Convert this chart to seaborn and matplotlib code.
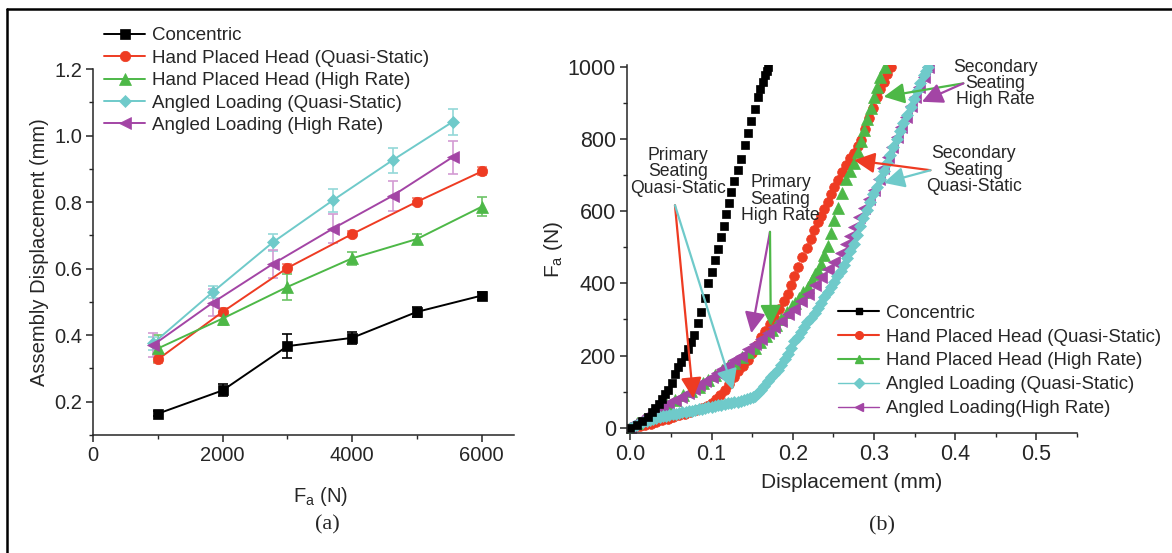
"""
Two-panel reproduction: (a) assembly displacement vs load, (b) load vs displacement curves.
"""
import matplotlib
matplotlib.use("Agg")
import matplotlib.pyplot as plt
import seaborn as sns
from matplotlib.lines import Line2D
from matplotlib.ticker import MultipleLocator, FormatStrFormatter

# ---- data, panel (a) ----
fa_std = [1000, 2000, 3000, 4000, 5000, 6000]
fa_angled = [925, 1850, 2775, 3700, 4625, 5550]

conc_disp = [0.164, 0.234, 0.367, 0.392, 0.470, 0.519]
conc_err = [0.008, 0.018, 0.037, 0.018, 0.015, 0.012]
hand_qs_disp = [0.327, 0.470, 0.602, 0.704, 0.801, 0.892]
hand_qs_err = [0.012, 0.012, 0.012, 0.010, 0.010, 0.012]
hand_hr_disp = [0.360, 0.450, 0.545, 0.631, 0.689, 0.786]
hand_hr_err = [0.042, 0.020, 0.040, 0.020, 0.015, 0.028]
ang_qs_disp = [0.375, 0.530, 0.679, 0.805, 0.926, 1.041]
ang_qs_err = [0.020, 0.018, 0.026, 0.034, 0.038, 0.039]
ang_hr_disp = [0.370, 0.498, 0.614, 0.720, 0.819, 0.935]
ang_hr_err = [0.037, 0.040, 0.043, 0.044, 0.045, 0.050]

# ---- data, panel (b) ----
conc_x = [0, 0.008, 0.015, 0.022, 0.027, 0.031, 0.035, 0.039, 0.043, 0.047, 0.051,
          0.055, 0.059, 0.063, 0.067, 0.071, 0.075, 0.079, 0.083, 0.0875, 0.092,
          0.096, 0.100, 0.104, 0.108, 0.112, 0.115, 0.118, 0.121, 0.124, 0.128,
          0.132, 0.136, 0.141, 0.145, 0.149, 0.153, 0.157, 0.160, 0.163, 0.166,
          0.168, 0.170]
conc_y = [0, 8, 18, 30, 42, 53, 66, 80, 92, 104, 125, 150, 167, 183, 200, 218, 238,
          258, 290, 321, 360, 400, 432, 464, 496, 529, 560, 592, 623, 654, 685, 715,
          745, 784, 818, 851, 884, 918, 940, 960, 978, 990, 1000]

hqs_x = [0, 0.006, 0.012, 0.018, 0.025, 0.032, 0.039, 0.046, 0.053, 0.060, 0.067,
         0.074, 0.081, 0.088, 0.094, 0.100, 0.105, 0.110, 0.116, 0.122, 0.128,
         0.133, 0.139, 0.145, 0.150, 0.156, 0.161, 0.166, 0.172, 0.177, 0.183,
         0.189, 0.194, 0.198, 0.202, 0.207, 0.212, 0.217, 0.222, 0.2265, 0.231,
         0.235, 0.239, 0.243, 0.247, 0.251, 0.256, 0.261, 0.266, 0.271, 0.275,
         0.280, 0.284, 0.289, 0.294, 0.299, 0.304, 0.308, 0.312, 0.316, 0.321]
hqs_y = [0, 2, 4, 7, 11, 16, 21, 25, 30, 34, 39, 43, 48, 53, 60, 67, 78, 90, 104,
         122, 141, 156, 171, 187, 207, 230, 252, 268, 287, 307, 330, 352, 372, 395,
         420, 446, 472, 498, 524, 548, 570, 588, 606, 626, 647, 668, 688, 708, 728,
         747, 762, 780, 798, 828, 858, 888, 918, 940, 960, 980, 1000]

hhr_x = [0, 0.008, 0.017, 0.026, 0.036, 0.045, 0.055, 0.065, 0.075, 0.084, 0.090,
         0.096, 0.104, 0.113, 0.120, 0.128, 0.137, 0.145, 0.153, 0.160, 0.167,
         0.174, 0.180, 0.186, 0.193, 0.199, 0.203, 0.208, 0.213, 0.219, 0.224,
         0.228, 0.231, 0.235, 0.239, 0.243, 0.247, 0.251, 0.256, 0.261, 0.266,
         0.271, 0.276, 0.280, 0.284, 0.288, 0.292, 0.296, 0.300, 0.304, 0.308,
         0.313]
hhr_y = [0, 12, 25, 39, 52, 64, 77, 90, 102, 114, 123, 132, 146, 160, 170, 180,
         196, 210, 222, 238, 255, 270, 285, 300, 320, 336, 345, 360, 375, 391, 410,
         425, 435, 455, 480, 505, 540, 575, 610, 650, 690, 712, 733, 764, 795, 825,
         856, 887, 918, 945, 972, 1000]

ahr_x = [0, 0.006, 0.014, 0.022, 0.030, 0.039, 0.047, 0.055, 0.063, 0.071, 0.078,
         0.084, 0.092, 0.100, 0.107, 0.113, 0.120, 0.128, 0.136, 0.145, 0.153,
         0.161, 0.169, 0.177, 0.186, 0.194, 0.202, 0.210, 0.219, 0.227, 0.235,
         0.243, 0.251, 0.259, 0.265, 0.271, 0.276, 0.282, 0.288, 0.294, 0.300,
         0.306, 0.311, 0.317, 0.322, 0.328, 0.333, 0.339, 0.345, 0.350, 0.355,
         0.361, 0.366]
ahr_y = [0, 12, 24, 35, 46, 58, 68, 77, 86, 95, 107, 118, 130, 141, 152, 163, 175,
         187, 200, 218, 232, 246, 262, 278, 296, 314, 330, 350, 372, 395, 418, 440,
         460, 483, 508, 532, 557, 583, 608, 634, 659, 690, 720, 751, 779, 807, 835,
         863, 891, 918, 945, 972, 1000]

aqs_x = [0, 0.004, 0.008, 0.012, 0.016, 0.020, 0.024, 0.028, 0.032, 0.036, 0.040,
         0.044, 0.048, 0.052, 0.056, 0.060, 0.064, 0.068, 0.072, 0.076, 0.080,
         0.084, 0.088, 0.092, 0.096, 0.100, 0.104, 0.108, 0.112, 0.116, 0.120,
         0.124, 0.128, 0.132, 0.136, 0.140, 0.144, 0.148, 0.151, 0.154, 0.157,
         0.161, 0.165, 0.169, 0.173, 0.177, 0.182, 0.186, 0.190, 0.194, 0.198,
         0.202, 0.206, 0.210, 0.214, 0.218, 0.222, 0.227, 0.231, 0.235, 0.239,
         0.243, 0.247, 0.251, 0.255, 0.259, 0.263, 0.267, 0.271, 0.275, 0.279,
         0.283, 0.287, 0.291, 0.295, 0.299, 0.304, 0.308, 0.312, 0.316, 0.320,
         0.324, 0.328, 0.332, 0.336, 0.341, 0.345, 0.349, 0.353, 0.357, 0.361,
         0.364, 0.367]
aqs_y = [0, 4, 8, 12, 16, 19, 22, 25, 27, 29, 31, 33, 35, 37, 39, 41, 42, 44, 46,
         47, 49, 51, 52, 54, 56, 58, 60, 62, 63, 65, 67, 68, 70, 72, 74, 76, 78, 81,
         84, 88, 95, 105, 116, 128, 139, 150, 160, 175, 190, 205, 222, 240, 252,
         265, 280, 293, 305, 319, 333, 347, 362, 376, 390, 405, 420, 435, 450, 470,
         490, 510, 535, 560, 582, 604, 626, 648, 668, 690, 713, 735, 757, 779, 801,
         823, 845, 868, 890, 912, 934, 956, 978, 990, 1000]

labels = ["Concentric", "Hand Placed Head (Quasi-Static)", "Hand Placed Head (High Rate)",
          "Angled Loading (Quasi-Static)", "Angled Loading (High Rate)"]
labels_b = ["Concentric", "Hand Placed Head (Quasi-Static)", "Hand Placed Head (High Rate)",
            "Angled Loading (Quasi-Static)", "Angled Loading(High Rate)"]

# ---- style ----
sns.set_theme(style="ticks")
plt.rcParams["font.family"] = ["Liberation Sans", "DejaVu Sans"]
plt.rcParams["mathtext.default"] = "regular"
plt.rcParams["axes.linewidth"] = 1.1

C_BLACK = "#000000"
C_RED = "#EE3B22"
C_GREEN = "#4DB847"
C_CYAN = "#6FCACA"
C_PURPLE = "#A345A5"
ERR = {C_BLACK: "#000000", C_RED: "#F2826F", C_GREEN: "#6CC466",
       C_CYAN: "#93D8D8", C_PURPLE: "#D39BD3"}

fig = plt.figure(figsize=(11.72, 5.53), dpi=100)
ax_a = fig.add_axes([0.0794, 0.2134, 0.3592, 0.6618])
ax_b = fig.add_axes([0.5350, 0.2170, 0.3840, 0.6655])

# ---- panel (a) ----
series_a = [
    (fa_std, conc_disp, conc_err, C_BLACK, "s", 7),
    (fa_std, hand_qs_disp, hand_qs_err, C_RED, "o", 7.5),
    (fa_std, hand_hr_disp, hand_hr_err, C_GREEN, "^", 8),
    (fa_angled, ang_qs_disp, ang_qs_err, C_CYAN, "D", 6.5),
    (fa_angled, ang_hr_disp, ang_hr_err, C_PURPLE, "<", 8.5),
]
for (xs, ys, es, col, mk, ms), lab in zip(series_a, labels):
    ax_a.errorbar(xs, ys, yerr=es, fmt="none", ecolor=ERR[col], elinewidth=1.2,
                  capsize=3.5, capthick=1.2, zorder=2)
    sns.lineplot(x=xs, y=ys, ax=ax_a, color=col, marker=mk, markersize=ms,
                 markeredgecolor=col, markeredgewidth=0.5, linewidth=1.4,
                 label=lab, sort=False, estimator=None, zorder=3)

ax_a.set_xlim(0, 6500)
ax_a.set_ylim(0.1, 1.2)
ax_a.xaxis.set_major_locator(MultipleLocator(2000))
ax_a.xaxis.set_minor_locator(MultipleLocator(1000))
ax_a.yaxis.set_major_locator(MultipleLocator(0.2))
ax_a.yaxis.set_minor_locator(MultipleLocator(0.1))
ax_a.yaxis.set_major_formatter(FormatStrFormatter("%.1f"))
ax_a.set_xlabel("F$_a$ (N)", fontsize=14.5)
ax_a.set_ylabel("Assembly Displacement (mm)", fontsize=14.5)
ax_a.xaxis.set_label_coords(0.54, -0.137)
ax_a.yaxis.set_label_coords(-0.105, 0.5)
ax_a.legend(loc="upper left", bbox_to_anchor=(0.026, 1.114), frameon=False,
            fontsize=13.5, handlelength=2.2, handletextpad=0.35, labelspacing=0.28,
            borderpad=0, borderaxespad=0)

# ---- panel (b) ----
series_b = [
    (hqs_x, hqs_y, C_RED, "o", 7),
    (hhr_x, hhr_y, C_GREEN, "^", 8),
    (ahr_x, ahr_y, C_PURPLE, "<", 8),
    (aqs_x, aqs_y, C_CYAN, "D", 6),
    (conc_x, conc_y, C_BLACK, "s", 6.2),
]
for xs, ys, col, mk, ms in series_b:
    sns.lineplot(x=xs, y=ys, ax=ax_b, color=col, marker=mk, markersize=ms,
                 markeredgecolor=col, markeredgewidth=0.5, linestyle="none",
                 sort=False, estimator=None)

ax_b.set_xlim(-0.004, 0.55)
ax_b.set_ylim(-15, 1006)
ax_b.xaxis.set_major_locator(MultipleLocator(0.1))
ax_b.xaxis.set_minor_locator(MultipleLocator(0.05))
ax_b.yaxis.set_major_locator(MultipleLocator(200))
ax_b.yaxis.set_minor_locator(MultipleLocator(100))
ax_b.xaxis.set_major_formatter(FormatStrFormatter("%.1f"))
ax_b.set_xlabel("Displacement (mm)", fontsize=15)
ax_b.set_ylabel("F$_a$ (N)", fontsize=15)
ax_b.xaxis.set_label_coords(0.5, -0.109)
ax_b.yaxis.set_label_coords(-0.138, 0.5)

handles_b = [
    Line2D([], [], color=C_BLACK, marker="s", markersize=5, lw=1.5),
    Line2D([], [], color=C_RED, marker="o", markersize=5.5, lw=1.5),
    Line2D([], [], color=C_GREEN, marker="^", markersize=6, lw=1.5),
    Line2D([], [], color=C_CYAN, marker="D", markersize=5, lw=1.0),
    Line2D([], [], color=C_PURPLE, marker="<", markersize=6, lw=1.0),
]
ax_b.legend(handles_b, labels_b, loc="upper left", bbox_to_anchor=(0.469, 0.349),
            frameon=False, fontsize=13.4, handlelength=2.2, handletextpad=0.35,
            labelspacing=0.37, borderpad=0, borderaxespad=0)

# annotations: text (x, y, label) and arrows (start, tip, colour)
notes = [
    (0.059, 710, "Primary\nSeating\nQuasi-Static"),
    (0.185, 634, "Primary\nSeating\nHigh Rate"),
    (0.449, 955, "Secondary\nSeating\nHigh Rate"),
    (0.4226, 714, "Secondary\nSeating\nQuasi-Static"),
]
arrows = [
    ((0.055, 617), (0.0775, 81), C_RED),
    ((0.055, 617), (0.1265, 104), C_CYAN),
    ((0.172, 543), (0.149, 262), C_PURPLE),
    ((0.172, 543), (0.173, 282), C_GREEN),
    ((0.410, 955), (0.312, 918), C_GREEN),
    ((0.410, 955), (0.359, 904), C_PURPLE),
    ((0.3695, 714), (0.2755, 742), C_RED),
    ((0.3695, 714), (0.312, 679), C_CYAN),
]
for x, y, txt in notes:
    ax_b.text(x, y, txt, ha="center", va="center", fontsize=12.7, linespacing=0.95,
              zorder=6)
for start, tip, col in arrows:
    ax_b.annotate("", xy=tip, xytext=start, zorder=7,
                  arrowprops=dict(arrowstyle="-|>,head_length=0.7,head_width=0.35",
                                  color=col, lw=1.6, shrinkA=0, shrinkB=0,
                                  mutation_scale=18))

for ax in (ax_a, ax_b):
    sns.despine(ax=ax)
    ax.tick_params(which="major", direction="out", length=5, width=1.1, pad=3)
    ax.tick_params(which="minor", direction="out", length=3, width=1.0)
    ax.set_facecolor("white")
ax_a.tick_params(labelsize=14.5)
ax_b.tick_params(labelsize=15.5)

# panel tags
fig.text(327 / 1172, 1 - 525 / 553, "(a)", ha="center", va="center", fontsize=16,
         family=["Liberation Serif", "DejaVu Serif"])
fig.text(882 / 1172, 1 - 526 / 553, "(b)", ha="center", va="center", fontsize=16,
         family=["Liberation Serif", "DejaVu Serif"])

# outer frame (top and left edges visible)
fig.add_artist(Line2D([7 / 1172, 1.0], [1 - 9 / 553, 1 - 9 / 553], color="black",
                      lw=1.8, transform=fig.transFigure))
fig.add_artist(Line2D([7 / 1172, 7 / 1172], [0.0, 1 - 9 / 553], color="black",
                      lw=1.8, transform=fig.transFigure))

fig.savefig("out.png", dpi=100, facecolor="white")
